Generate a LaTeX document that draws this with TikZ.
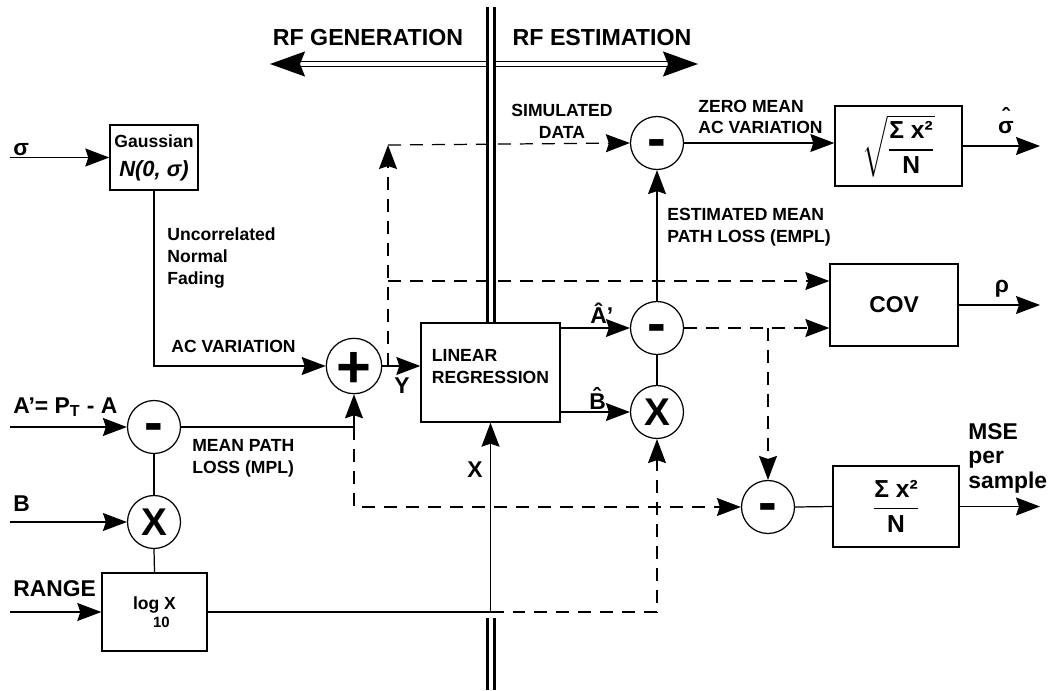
\documentclass[tikz,border=0pt]{standalone}
\usepackage{amsmath}
\usepackage{fontspec}
\setmainfont{Liberation Sans}
\usetikzlibrary{arrows.meta}

\begin{document}
\begin{tikzpicture}[
    x=0.02cm, y=-0.02cm,
    blk/.style={rectangle, draw, line width=0.8pt, inner sep=0pt},
    sumnode/.style={circle, draw, line width=0.7pt, minimum size=1.06cm, inner sep=0pt},
    opsub/.style={sumnode, font=\fontsize{32}{32}\selectfont\bfseries, text height=16pt, text depth=0pt},
    opadd/.style={sumnode, font=\fontsize{34}{34}\selectfont\bfseries, text height=24.5pt, text depth=0pt},
    opmul/.style={sumnode, font=\fontsize{22}{22}\selectfont\bfseries},
    wire/.style={line width=0.7pt},
    sig/.style={wire, -{Stealth[length=0.48cm, width=0.36cm, inset=0.06cm]}},
    dsig/.style={sig, dash pattern=on 0.26cm off 0.18cm},
    divider/.style={line width=1.7pt, double, double distance=2.2pt},
    rfarrow/.style={line width=0.8pt, double, double distance=1.8pt,
      {Stealth[length=0.7cm, width=0.5cm, inset=0.1cm]}-{Stealth[length=0.7cm, width=0.5cm, inset=0.1cm]}},
    lbl/.style={inner sep=0pt, align=left, font=\fontsize{10}{12.6}\selectfont\bfseries},
    biglbl/.style={inner sep=0pt, align=left, font=\fontsize{13}{14}\selectfont\bfseries},
  ]

  \useasboundingbox (0,0) rectangle (1048,690);

  % ---- generation / estimation split
  \coordinate (dtop) at (491,7);
  \coordinate (dbot) at (491,618);
  \coordinate (dend) at (491,690);
  \coordinate (rfl) at (270,64);
  \coordinate (rfr) at (698,64);
  \draw[rfarrow] (rfl) -- (rfr);
  \node[biglbl, font=\fontsize{13.2}{15}\selectfont\bfseries, anchor=base] (genlbl) at (368,45) {RF GENERATION};
  \node[biglbl, font=\fontsize{13.2}{15}\selectfont\bfseries, anchor=base] (estlbl) at (602,45) {RF ESTIMATION};

  % ---- blocks
  \node[blk, minimum width=1.76cm, minimum height=1.3cm, align=center,
        font=\fontsize{12.5}{16.5}\selectfont\bfseries\itshape] (gauss) at (154,157.5)
        {{\upshape\fontsize{10}{12}\selectfont Gaussian}\\N(0, σ)};
  \node[blk, minimum width=2.1cm, minimum height=1.56cm, align=center,
        font=\fontsize{10}{10.2}\selectfont\bfseries] (logx) at (154.5,612)
        {log X\\\hspace*{0.28cm}{\fontsize{8.5}{10}\selectfont 10}};
  \node[blk, minimum width=2.78cm, minimum height=1.98cm, align=left,
        font=\fontsize{10}{12.5}\selectfont\bfseries] (linreg) at (490.5,372.5) {LINEAR\\REGRESSION\\[-6pt]};
  \node[blk, minimum width=2.54cm, minimum height=1.6cm, font=\fontsize{14}{16}\selectfont\bfseries] (rms) at (898.5,146)
        {$\sqrt{\genfrac{}{}{0.9pt}{0}{\text{Σ x²}}{\text{N}}}$};
  \node[blk, minimum width=2.56cm, minimum height=1.64cm, font=\fontsize{13}{15}\selectfont\bfseries] (cov) at (894,305) {COV};
  \node[blk, minimum width=2.52cm, minimum height=1.62cm, font=\fontsize{14}{16}\selectfont\bfseries] (mse) at (896,506.5)
        {$\genfrac{}{}{0.9pt}{0}{\text{Σ x²}}{\text{N}}$};

  % ---- summing and multiplying points
  \node[opadd] (plus) at (354,366) {+};
  \node[opsub] (msub) at (154,427) {-};
  \node[opmul] (mmul) at (154,522) {X};
  \node[opsub] (dsub) at (657,143) {-};
  \node[opsub] (esub) at (657,328) {-};
  \node[opmul] (emul) at (657,412) {X};
  \node[opsub] (msesub) at (768,507) {-};

  \draw[divider] (dtop) -- (dtop |- linreg.north);
  \draw[divider] (dbot) -- (dend);

  % ---- inputs
  \coordinate (insig) at (10,157.5);
  \coordinate (inA) at (10,427);
  \coordinate (inB) at (10,522);
  \coordinate (inR) at (10,612);
  \node[biglbl, anchor=base west] (sigl) at (13,155) {σ};
  \node[biglbl, anchor=base west] (Al) at (13,413) {A’= P\textsubscript{T} - A};
  \node[biglbl, anchor=base west] (Bl) at (13,511) {B};
  \node[biglbl, anchor=base west] (rangel) at (13,596) {RANGE};
  \draw[sig] (insig) -- (gauss.west);
  \draw[sig] (inA) -- (msub.west);
  \draw[sig] (inB) -- (mmul.west);
  \draw[sig] (inR) -- (logx.west);

  % ---- generation side
  \draw[sig] (gauss.south) |- (plus.west);
  \node[lbl, anchor=north west] (fadl) at (167,227) {Uncorrelated\\Normal\\Fading};
  \node[lbl, anchor=base west] (acl) at (171,352) {AC VARIATION};
  \draw[wire] (msub.south) -- (mmul.north);
  \draw[wire] (mmul.south) -- (logx.north);
  \draw[sig] (msub.east) -| (plus.south);
  \coordinate (jmpl) at (plus.south |- msub.east);
  \node[lbl, anchor=north west] (mpll) at (192,439) {MEAN PATH\\LOSS (MPL)};

  % ---- simulated data Y and range X
  \coordinate (jy) at (388,366);
  \coordinate (jtop) at (388,145);
  \coordinate (jcov) at (388,281);
  \coordinate (jx) at (linreg.south |- logx.east);
  \draw[sig] (plus.east) -- (plus.east -| linreg.west);
  \node[biglbl, anchor=center] (yl) at (402,386) {Y};
  \draw[wire] (logx.east) -- (jx);
  \draw[sig] (jx) -- (linreg.south);
  \node[biglbl, anchor=center] (xl) at (475,470) {X};
  \draw[dsig] (jy) -- (jtop);
  \draw[dsig] (jtop) -- (dsub.west);
  \draw[dsig] (jcov) -- (jcov -| cov.west);
  \draw[dsig] (jx) -| (emul.south);
  \draw[dsig] (jmpl) |- (msesub.west);
  \node[lbl, anchor=north, align=center] (siml) at (562,104) {SIMULATED\\DATA};

  % ---- estimation side
  \draw[sig] (linreg.east |- esub.west) -- (esub.west);
  \draw[sig] (linreg.east |- emul.west) -- (emul.west);
  \node[biglbl, anchor=base west] (ahl) at (590,323) {Â’};
  \node[biglbl, anchor=base west] (bhl) at (589,409) {\^{B}};
  \draw[wire] (esub.south) -- (emul.north);
  \draw[sig] (esub.north) -- (dsub.south);
  \node[lbl, anchor=north west] (empll) at (667,208) {ESTIMATED MEAN\\PATH LOSS (EMPL)};
  \draw[sig] (dsub.east) -- (dsub.east -| rms.west);
  \node[lbl, anchor=north west, font=\fontsize{10}{11.9}\selectfont\bfseries] (zml) at (698,100) {ZERO MEAN\\AC VARIATION};
  \draw[dsig] (esub.east) -- (esub.east -| cov.west);
  \coordinate (jbr) at (msesub.north |- esub.east);
  \draw[dsig] (jbr) -- (msesub.north);
  \draw[wire] (msesub.east) -- (mse.west);

  % ---- outputs
  \coordinate (outsig) at (1040,146);
  \coordinate (outrho) at (1040,305);
  \coordinate (outmse) at (1040,506.5);
  \draw[sig] (rms.east) -- (outsig);
  \draw[sig] (cov.east) -- (outrho);
  \draw[sig] (mse.east) -- (outmse);
  \node[biglbl, anchor=base] (sighl) at (1006,133) {\ooalign{σ\cr\hidewidth\raisebox{0.36em}{ˆ}\hidewidth\cr}};
  \node[biglbl, anchor=base] (rhol) at (1002,292) {ρ};
  \node[biglbl, anchor=north west, font=\fontsize{13}{13.9}\selectfont\bfseries] (msel) at (968,423) {MSE\\per\\sample};

\end{tikzpicture}
\end{document}
